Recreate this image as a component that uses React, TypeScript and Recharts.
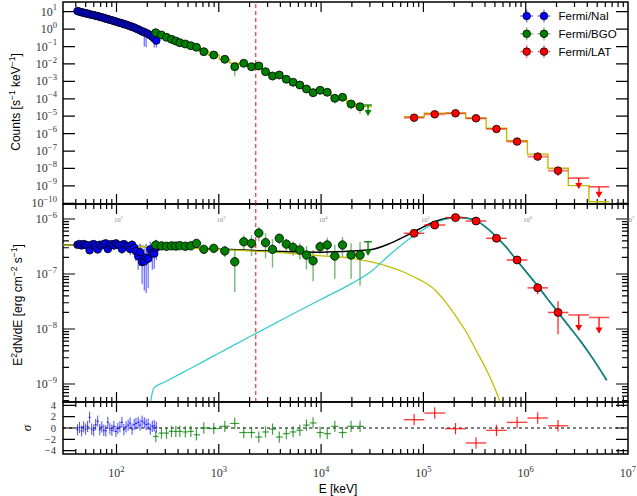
import React from 'react';
import { ComposedChart, Scatter, Line, XAxis, YAxis, ErrorBar, ReferenceLine, ReferenceArea, Legend } from 'recharts';

// ---------------- data ----------------
// Fermi/NaI (keV, counts s^-1 keV^-1, E^2 dN/dE, residual)
const naiE = [41.6, 43.5, 45.6, 47.7, 49.9, 52.2, 54.6, 57.2, 59.8, 62.6, 65.5, 68.6, 71.8, 75.1, 78.6, 82.3, 86.1, 90.1, 94.3, 98.7, 103, 108, 113, 118, 124, 130, 136, 142, 149, 155, 163, 170, 178, 187, 195, 204, 214, 224, 234, 245];
const naiCounts = [10.9, 10.1, 9.2, 8.8, 8.0, 7.8, 7.1, 6.6, 6.4, 5.8, 5.6, 5.1, 4.7, 4.5, 4.0, 3.8, 3.4, 3.25, 2.9, 2.75, 2.5, 2.3, 2.17, 1.93, 1.82, 1.62, 1.52, 1.33, 1.25, 1.08, 0.97, 0.85, 0.74, 0.66, 0.6, 0.52, 0.45, 0.37, 0.29, 0.22];
const naiCountErr = [0.04, 0.04, 0.04, 0.04, 0.04, 0.05, 0.05, 0.05, 0.05, 0.05, 0.05, 0.05, 0.06, 0.06, 0.06, 0.06, 0.06, 0.07, 0.07, 0.07, 0.07, 0.08, 0.08, 0.08, 0.09, 0.09, 0.1, 0.1, 0.12, 0.14, 0.15, 0.2, 0.3, 0.85, 0.85, 0.3, 0.35, 0.4, 0.7, 0.6];
const naiModelCounts = [10.7, 10.0, 9.33, 8.71, 8.13, 7.67, 7.16, 6.68, 6.31, 5.89, 5.5, 5.13, 4.79, 4.42, 4.07, 3.76, 3.47, 3.2, 2.95, 2.72, 2.51, 2.32, 2.14, 1.95, 1.8, 1.64, 1.5, 1.35, 1.23, 1.1, 0.989, 0.891, 0.794, 0.7, 0.617, 0.537, 0.457, 0.38, 0.302, 0.229];
const naiFlux = [3.4e-7, 3.5e-7, 3.3e-7, 3.5e-7, 3.4e-7, 3.3e-7, 2.7e-7, 3.4e-7, 3.5e-7, 3.2e-7, 2.8e-7, 3.4e-7, 3.3e-7, 3.5e-7, 3.6e-7, 2.85e-7, 3.4e-7, 3.5e-7, 3.3e-7, 3.6e-7, 3.4e-7, 3.3e-7, 2.85e-7, 3.5e-7, 3.3e-7, 3.1e-7, 2.85e-7, 3.4e-7, 3.0e-7, 2.6e-7, 2.1e-7, 2.5e-7, 1.65e-7, 1.7e-7, 2.0e-7, 1.9e-7, 2.8e-7, 2.4e-7, 2.35e-7, 3.0e-7];
const naiFluxErr = [0.3e-7, 0.3e-7, 0.3e-7, 0.35e-7, 0.3e-7, 0.35e-7, 0.4e-7, 0.35e-7, 0.35e-7, 0.4e-7, 0.4e-7, 0.4e-7, 0.45e-7, 0.4e-7, 0.45e-7, 0.45e-7, 0.45e-7, 0.5e-7, 0.5e-7, 0.5e-7, 0.55e-7, 0.5e-7, 0.55e-7, 0.6e-7, 0.6e-7, 0.6e-7, 0.65e-7, 0.7e-7, 0.7e-7, 0.9e-7, 0.9e-7, 1.1e-7, 1.0e-7, 1.2e-7, 1.55e-7, 1.35e-7, 1.1e-7, 1.2e-7, 1.1e-7, 1.2e-7];
const naiResid = [-0.3, 0.1, -0.5, 0.2, -0.2, 0.3, 1.9, -0.2, -0.4, 0.6, 1.2, -0.3, 0.2, -0.4, -0.5, 1.0, -0.1, -0.4, 0.3, -0.6, -0.1, 0.2, 1.0, -0.3, 0.2, 0.5, 0.9, -0.2, 0.6, 0.8, 1.0, 0.5, 1.2, 0.9, 0.6, 0.7, -0.2, 0.3, 0.4, 0.1];

// Fermi/BGO
const bgoE = [242, 275, 308, 345, 380, 416, 471, 533, 605, 714, 893, 1145, 1433, 1754, 2088, 2462, 2862, 3350, 3901, 4571, 5326, 6194, 7194, 8350, 9780, 11480, 13620, 16190, 19640, 24030];
const bgoUlE = [28770];
const bgoCounts = [0.622, 0.459, 0.339, 0.26, 0.208, 0.166, 0.14, 0.112, 0.0904, 0.0506, 0.0327, 0.0185, 0.00697, 0.0109, 0.00697, 0.00764, 0.0036, 0.00204, 0.00232, 0.00132, 8.85e-4, 6.2e-4, 3.66e-4, 2.24e-4, 3.08e-4, 2.36e-4, 1.07e-4, 1.22e-4, 5.03e-5, 3.52e-5];
const bgoCountErr = [0.03, 0.03, 0.03, 0.03, 0.03, 0.04, 0.04, 0.05, 0.05, 0.08, 0.1, 0.15, 0.73, 0.2, 0.25, 0.2, 0.35, 0.45, 0.3, 0.35, 0.3, 0.3, 0.35, 0.45, 0.35, 0.35, 0.5, 0.4, 0.5, 0.6];
const bgoUlCounts = [4.4e-5];
const bgoModelCounts = [0.603, 0.457, 0.347, 0.269, 0.214, 0.17, 0.135, 0.107, 0.0851, 0.0537, 0.0316, 0.0182, 0.0112, 0.00955, 0.00794, 0.00603, 0.00398, 0.00263, 0.002, 0.00138, 9.55e-4, 6.61e-4, 4.57e-4, 3.39e-4, 2.82e-4, 2.09e-4, 1.2e-4, 1.0e-4, 5.5e-5, 3.55e-5, 3.55e-5];
const bgoFlux = [3.37e-7, 3.25e-7, 3.2e-7, 3.25e-7, 3.22e-7, 3.28e-7, 3.2e-7, 3.25e-7, 3.61e-7, 2.81e-7, 2.93e-7, 2.62e-7, 1.67e-7, 3.86e-7, 3.61e-7, 5.56e-7, 3.72e-7, 2.81e-7, 4.46e-7, 3.5e-7, 3.05e-7, 2.73e-7, 2.21e-7, 1.74e-7, 3.13e-7, 3.37e-7, 2.12e-7, 3.37e-7, 2.21e-7, 2.21e-7];
const bgoFluxErr = [0.2e-7, 0.2e-7, 0.2e-7, 0.2e-7, 0.2e-7, 0.2e-7, 0.25e-7, 0.25e-7, 0.3e-7, 0.5e-7, 0.5e-7, 0.6e-7, 1.2e-7, 1.2e-7, 1.5e-7, 1.6e-7, 1.8e-7, 1.5e-7, 1.0e-7, 0.9e-7, 0.9e-7, 0.9e-7, 1.0e-7, 1.0e-7, 0.8e-7, 1.2e-7, 1.3e-7, 1.3e-7, 1.4e-7, 1.6e-7];
const bgoUlFlux = [3.86e-7];
const bgoResid = [-1.5, -0.9, -0.9, -0.6, -0.6, -0.6, -0.7, -0.6, -1.2, 0.0, -0.1, 0.3, 0.8, -0.8, -0.8, -1.6, -0.7, -0.2, -1.6, -1.0, -0.7, -0.4, 0.5, 0.9, -0.8, -1.0, 0.3, -0.8, 0.3, 0.3];

// Fermi/LAT
const latE = [81100, 129000, 206000, 327000, 518000, 824000, 1310000, 2070000];
const latUlE = [3300000, 5210000];
const latEdges = [64400, 102000, 163000, 259000, 411000, 652000, 1040000, 1650000, 2610000, 4150000, 6560000];
const latCounts = [8.2e-6, 1.29e-5, 1.47e-5, 7.6e-6, 1.85e-6, 3.5e-7, 4.8e-8, 7.5e-9];
const latCountErr = [0.05, 0.04, 0.04, 0.05, 0.08, 0.12, 0.2, 0.5];
const latUlCounts = [2.8e-9, 8.9e-10];
const latModelCounts = [9.3e-6, 1.47e-5, 1.47e-5, 7.6e-6, 2.04e-6, 3.9e-7, 6.7e-8, 1.02e-8, 1.03e-9, 1.24e-10];
const latFlux = [5.5e-7, 7.78e-7, 1.06e-6, 9.2e-7, 4.46e-7, 1.8e-7, 5.6e-8, 2.0e-8];
const latFluxErr = [0.3e-7, 0.4e-7, 0.5e-7, 0.5e-7, 0.3e-7, 0.15e-7, 1.3e-8, 1.2e-8];
const latUlFlux = [1.8e-8, 1.62e-8];
const latResid = [1.47, 2.65, -0.12, -2.65, -0.42, 1.0, 1.77, 0.4];

// model components (E^2 dN/dE)
const modelE = [30, 50, 100, 200, 210, 232, 300, 500, 1000, 2000, 5000, 10000, 20000, 31000, 45000, 63000, 80000, 100000, 130000, 160000, 210000, 260000, 330000, 420000, 520000, 560000, 650000, 810000, 1000000, 1300000, 1600000, 2060000, 2600000, 3400000, 4500000, 6200000];
const yellowF = [3.39e-7, 3.31e-7, 3.24e-7, 3.13e-7, 3.11e-7, 3.09e-7, 3.05e-7, 2.95e-7, 2.79e-7, 2.63e-7, 2.37e-7, 2.14e-7, 1.93e-7, 1.66e-7, 1.38e-7, 1.1e-7, 8.91e-8, 7.24e-8, 5.13e-8, 3.31e-8, 1.66e-8, 9.12e-9, 3.98e-9, 1.7e-9, 6.92e-10, 4.79e-10, 2.0e-10, null, null, null, null, null, null, null, null, null];
const cyanF = [null, null, null, null, 3.55e-10, 8.51e-10, 1.1e-9, 1.82e-9, 3.63e-9, 7.24e-9, 1.78e-8, 3.47e-8, 6.76e-8, 1.12e-7, 2.09e-7, 3.55e-7, 4.9e-7, 6.46e-7, 8.51e-7, 9.77e-7, 1.06e-6, 1.035e-6, 9.33e-7, 6.76e-7, 4.68e-7, 4.07e-7, 3.02e-7, 1.82e-7, 1.12e-7, 6.17e-8, 3.72e-8, 2.04e-8, 1.17e-8, 6.17e-9, 2.95e-9, 1.17e-9];
const totalF = [3.39e-7, 3.31e-7, 3.24e-7, 3.13e-7, 3.11e-7, 3.1e-7, 3.06e-7, 2.97e-7, 2.83e-7, 2.7e-7, 2.55e-7, 2.49e-7, 2.61e-7, 2.78e-7, 3.47e-7, 4.65e-7, 5.79e-7, 7.18e-7, 9.02e-7, 1.01e-6, 1.077e-6, 1.044e-6, 9.37e-7, 6.78e-7, 4.69e-7, 4.07e-7, 3.02e-7, 1.82e-7, 1.12e-7, 6.17e-8, 3.72e-8, 2.04e-8, 1.17e-8, 6.17e-9, 2.95e-9, 1.17e-9];

const dashedLineE = 2300;

// axis tick values
const xDecades = [10, 100, 1000, 1e4, 1e5, 1e6];
const countDecades = [-10, -9, -8, -7, -6, -5, -4, -3, -2, -1, 0, 1];
const fluxDecades = [-10, -9, -8, -7, -6];
const sigmaTicks = [-4, -2, 0, 2, 4];

const legendItems = [
  { name: 'Fermi/NaI', color: '#0000ff' },
  { name: 'Fermi/BGO', color: '#008000' },
  { name: 'Fermi/LAT', color: '#ff0000' },
];

// ---------------- layout / style ----------------
const W = 637;
const H = 496;
const P1 = { top: 2, bottom: 204 };
const P2 = { top: 204, bottom: 402 };
const P3 = { top: 402, bottom: 454 };
const LEFT_W = 63;
const RIGHT_W = 9;
const PLOT_W = W - LEFT_W - RIGHT_W;
const AX_H = 1;
const X_DOMAIN: [number, number] = [30, 1e7];
const C_DOMAIN: [number, number] = [9.12e-11, 36.1];
const F_DOMAIN: [number, number] = [4.71e-10, 1.875e-6];
const S_DOMAIN: [number, number] = [-4.6, 4.6];

const SERIF = '"Liberation Serif", "DejaVu Serif", serif';
const SANS = '"Liberation Sans", Arial, Helvetica, sans-serif';
const BLUE = '#0000ff';
const GREEN = '#008000';
const RED = '#ff0000';
const YEL = '#bfbf00';
const CYAN = '#00bfbf';
const AXIS = { stroke: '#000', strokeWidth: 1.5 };

// ---------------- helpers ----------------
const isDecade = (v: number) => Math.abs(Math.log10(v) - Math.round(Math.log10(v))) < 1e-6;

const xTicks: number[] = (() => {
  const t: number[] = [];
  xDecades.forEach((d) => {
    for (let k = 1; k <= 9; k++) {
      const v = d * k;
      if (v > X_DOMAIN[0] && v <= X_DOMAIN[1]) t.push(v);
    }
  });
  t.push(1e7);
  return t;
})();
const countTicks = countDecades.map((p) => Math.pow(10, p));
const fluxTicks: number[] = (() => {
  const t: number[] = [];
  fluxDecades.forEach((p) => {
    for (let k = 1; k <= 9; k++) {
      const v = k * Math.pow(10, p);
      if (v >= F_DOMAIN[0] && v <= F_DOMAIN[1]) t.push(v);
    }
  });
  return t;
})();

const geoEdges = (c: number[]) => {
  const n = c.length;
  const e: number[] = [c[0] / Math.sqrt(c[1] / c[0])];
  for (let i = 1; i < n; i++) e.push(Math.sqrt(c[i - 1] * c[i]));
  e.push(c[n - 1] * Math.sqrt(c[n - 1] / c[n - 2]));
  return e;
};

// ---------------- derived tables ----------------
const naiEdges = geoEdges(naiE);
const naiCountPts = naiE.map((e, i) => ({ e, v: naiCounts[i], err: naiCounts[i] * naiCountErr[i] }));
const naiModelPts = naiE.map((e, i) => ({ e, v: naiModelCounts[i] }));
const naiFluxPts = naiE.map((e, i) => ({ e, v: naiFlux[i], err: naiFluxErr[i] }));
const naiResPts = naiE.map((e, i) => ({ e, v: naiResid[i], ey: 1, ex: [e - naiEdges[i], naiEdges[i + 1] - e] }));

const bgoAllE = [...bgoE, ...bgoUlE];
const bgoEdges = geoEdges(bgoAllE);
const bgoCountPts = bgoE.map((e, i) => ({ e, v: bgoCounts[i], err: bgoCounts[i] * bgoCountErr[i] }));
const bgoUlCountPts = bgoUlE.map((e, i) => ({ e, v: bgoUlCounts[i] }));
const bgoModelStep = bgoEdges.map((e, i) => ({ e, v: bgoModelCounts[Math.min(i, bgoModelCounts.length - 1)] }));
const bgoFluxPts = bgoE.map((e, i) => ({ e, v: bgoFlux[i], err: bgoFluxErr[i] }));
const bgoUlFluxPts = bgoUlE.map((e, i) => ({ e, v: bgoUlFlux[i] }));
const bgoResPts = bgoE.map((e, i) => ({ e, v: bgoResid[i], ey: 1, ex: [e - bgoEdges[i], bgoEdges[i + 1] - e] }));

const latX = (e: number, i: number) => [e - latEdges[i], latEdges[i + 1] - e];
const nLat = latE.length;
const latCountPts = latE.map((e, i) => ({ e, v: latCounts[i], err: latCounts[i] * latCountErr[i], ex: latX(e, i) }));
const latUlCountPts = latUlE.map((e, j) => ({ e, v: latUlCounts[j], ex: latX(e, nLat + j) }));
const latModelStep = latEdges.map((e, i) => ({ e, v: latModelCounts[Math.min(i, latModelCounts.length - 1)] }));
const latFluxPts = latE.map((e, i) => ({ e, v: latFlux[i], err: latFluxErr[i], ex: latX(e, i) }));
const latUlFluxPts = latUlE.map((e, j) => ({ e, v: latUlFlux[j], ex: latX(e, nLat + j) }));
const latResPts = latE.map((e, i) => ({ e, v: latResid[i], ey: 1, ex: latX(e, i) }));

const pick = (arr: (number | null)[]) =>
  modelE.map((e, i) => ({ e, v: arr[i] })).filter((p) => p.v !== null && p.v !== undefined);
const yellowPts = pick(yellowF);
const cyanPts = pick(cyanF);
const totalPts = pick(totalF);

// ---------------- drawing pieces ----------------
function Pow({ x, y, v, anchor, size, fill }: any) {
  const n = Math.round(Math.log10(v));
  const s = n < 0 ? '\u2212' + Math.abs(n) : String(n);
  return (
    <text x={x} y={y} textAnchor={anchor} fontFamily={SERIF} fontSize={size} fill={fill}>
      10
      <tspan dy={-size * 0.45} fontSize={size * 0.72}>
        {s}
      </tspan>
    </text>
  );
}

const mkXLabel = (side: 'top' | 'bottom', label: 'none' | 'big' | 'tiny') => (p: any) => {
  const x = Number(p.x);
  const y = Number(p.y);
  const v = p.payload.value;
  const major = isDecade(v);
  const y0 = side === 'bottom' ? y - AX_H : y + AX_H;
  if (major && label === 'big') return <Pow x={x} y={y0 + 24} v={v} anchor="middle" size={12} fill="#333" />;
  if (major && label === 'tiny') return <Pow x={x + 2} y={y0 + 17} v={v} anchor="middle" size={6.5} fill="#888" />;
  return <g />;
};

const mkYLabel = (labels: boolean, lin: boolean) => (p: any) => {
  const x = Number(p.x);
  const y = Number(p.y);
  const v = p.payload.value;
  const major = lin ? true : isDecade(v);
  if (!labels || !major) return <g />;
  return lin ? (
    <text x={x - 7} y={y + 3.5} textAnchor="end" fontFamily={SERIF} fontSize={10.5} fill="#333">
      {v < 0 ? '\u2212' + Math.abs(v) : String(v)}
    </text>
  ) : (
    <Pow x={x - 6} y={y + 4} v={v} anchor="end" size={12} fill="#333" />
  );
};

// inward tick marks: one full-span reference line per tick value, dashed so that only
// a short stub remains visible at each end of the line (i.e. at both frame edges)
const stubDash = (len: number, span: number) => `${len} ${Math.max(span - 2 * len, 0)} ${len} ${span * 4}`;

function tickLines(yTicks: number[], lin: boolean, panelH: number) {
  const out: React.ReactElement[] = [];
  xTicks.forEach((t) => {
    if (t >= X_DOMAIN[1]) return;
    const len = isDecade(t) ? 10 : 5;
    out.push(
      <ReferenceLine key={'tx' + t} x={t} stroke="#000" strokeWidth={1.2} strokeDasharray={stubDash(len, panelH)} />
    );
  });
  yTicks.forEach((t) => {
    const major = lin ? true : isDecade(t);
    const len = major ? 12 : 6;
    out.push(
      <ReferenceLine key={'ty' + t} y={t} stroke="#000" strokeWidth={1.2} strokeDasharray={stubDash(len, PLOT_W)} />
    );
  });
  return out;
}

const dot = (color: string, r: number) => (p: any) =>
  p.cx == null || p.cy == null ? <g /> : <circle cx={p.cx} cy={p.cy} r={r} fill={color} stroke="#000" strokeWidth={0.8} />;

const ulShape = (color: string, len: number, cap: number) => (p: any) => {
  const { cx, cy } = p;
  if (cx == null || cy == null) return <g />;
  return (
    <g>
      {cap > 0 ? <line x1={cx - cap} x2={cx + cap} y1={cy} y2={cy} stroke={color} strokeWidth={1.3} /> : null}
      <line x1={cx} x2={cx} y1={cy} y2={cy + len} stroke={color} strokeWidth={1.3} />
      <path d={`M${cx - 3.5},${cy + len - 5} L${cx + 3.5},${cy + len - 5} L${cx},${cy + len + 1} Z`} fill={color} />
    </g>
  );
};

const none = () => <g />;

function axes(
  yDomain: [number, number],
  yTicks: number[],
  yScale: 'log' | 'linear',
  xBottomLabel: 'none' | 'big',
  xTopLabel: 'none' | 'tiny',
  panelH: number,
  yLabel: any,
  xLabel?: any
) {
  const lin = yScale === 'linear';
  return [
    <XAxis
      key="xb"
      dataKey="e"
      type="number"
      scale="log"
      domain={X_DOMAIN}
      allowDataOverflow
      ticks={xTicks}
      interval={0}
      tick={mkXLabel('bottom', xBottomLabel)}
      tickLine={false}
      tickSize={0}
      tickMargin={0}
      axisLine={false}
      height={AX_H}
      label={xLabel}
    />,
    <XAxis
      key="xt"
      xAxisId="t"
      orientation="top"
      dataKey="e"
      type="number"
      scale="log"
      domain={X_DOMAIN}
      allowDataOverflow
      ticks={xTicks}
      interval={0}
      tick={mkXLabel('top', xTopLabel)}
      tickLine={false}
      tickSize={0}
      tickMargin={0}
      axisLine={false}
      height={AX_H}
    />,
    <YAxis
      key="yl"
      type="number"
      scale={yScale}
      domain={yDomain}
      allowDataOverflow
      ticks={yTicks}
      interval={0}
      tick={mkYLabel(true, lin)}
      tickLine={false}
      tickSize={0}
      tickMargin={0}
      axisLine={false}
      width={LEFT_W}
      label={yLabel}
    />,
    <YAxis
      key="yr"
      yAxisId="r"
      orientation="right"
      type="number"
      scale={yScale}
      domain={yDomain}
      allowDataOverflow
      ticks={yTicks}
      interval={0}
      tick={mkYLabel(false, lin)}
      tickLine={false}
      tickSize={0}
      tickMargin={0}
      axisLine={false}
      width={RIGHT_W}
    />,
    <ReferenceArea
      key="frame"
      x1={X_DOMAIN[0]}
      x2={X_DOMAIN[1]}
      y1={yDomain[0]}
      y2={yDomain[1]}
      fill="none"
      fillOpacity={0}
      stroke={AXIS.stroke}
      strokeWidth={AXIS.strokeWidth}
      ifOverflow="visible"
    />,
    ...tickLines(yTicks, lin, panelH),
  ];
}

const countsLabel = () => (
  <text transform="translate(19.5,102) rotate(-90)" textAnchor="middle" fontFamily={SANS} fontSize={12} fill="#000">
    Counts [s
    <tspan dy={-5} fontSize={8.5}>{'\u22121'}</tspan>
    <tspan dy={5}> keV</tspan>
    <tspan dy={-5} fontSize={8.5}>{'\u22121'}</tspan>
    <tspan dy={5}>]</tspan>
  </text>
);

const fluxLabel = () => (
  <text transform="translate(22,305) rotate(-90)" textAnchor="middle" fontFamily={SANS} fontSize={12} fill="#000">
    E
    <tspan dy={-5} fontSize={8.5}>2</tspan>
    <tspan dy={5}>dN/dE [erg cm</tspan>
    <tspan dy={-5} fontSize={8.5}>{'\u22122'}</tspan>
    <tspan dy={5}> s</tspan>
    <tspan dy={-5} fontSize={8.5}>{'\u22121'}</tspan>
    <tspan dy={5}>]</tspan>
  </text>
);

const sigmaLabel = () => (
  <text transform="translate(31,428) rotate(-90)" textAnchor="middle" fontFamily={SERIF} fontStyle="italic" fontSize={13} fill="#000">
    σ
  </text>
);

const energyLabel = () => (
  <text x={338} y={493} textAnchor="middle" fontFamily={SANS} fontSize={12} fill="#000">
    E [keV]
  </text>
);

function LegendBox() {
  return (
    <svg width={132} height={62} style={{ display: 'block', overflow: 'visible' }}>
      {legendItems.map((it, i) => {
        const y = 16 + i * 17.8;
        return (
          <g key={it.name}>
            {[21.7, 39].map((mx) => (
              <g key={mx}>
                <line x1={mx - 6.5} x2={mx + 6.5} y1={y} y2={y} stroke={it.color} strokeOpacity={0.55} strokeWidth={1.3} />
                <line x1={mx} x2={mx} y1={y - 6.5} y2={y + 6.5} stroke={it.color} strokeOpacity={0.55} strokeWidth={1.3} />
                <circle cx={mx} cy={y} r={3.8} fill={it.color} stroke="#000" strokeWidth={0.8} />
              </g>
            ))}
            <text x={53.5} y={y + 4.2} fontFamily={SANS} fontSize={11.5} fill="#000">
              {it.name}
            </text>
          </g>
        );
      })}
    </svg>
  );
}

const margin = (p: { top: number; bottom: number }) => ({ top: p.top - AX_H, bottom: H - p.bottom - AX_H, left: 0, right: 0 });

function CountsPanel() {
  return (
    <ComposedChart width={W} height={H} margin={margin(P1)}>
      {axes(C_DOMAIN, countTicks, 'log', 'none', 'none', P1.bottom - P1.top, countsLabel)}
      <ReferenceLine x={dashedLineE} stroke={RED} strokeDasharray="4 3" strokeWidth={1} />
      <Scatter data={naiCountPts} dataKey="v" isAnimationActive={false} shape={dot(BLUE, 3.8)}>
        <ErrorBar dataKey="err" direction="y" width={0} stroke="rgba(0,0,255,0.6)" strokeWidth={1.2} />
      </Scatter>
      <Line data={naiModelPts} dataKey="v" type="linear" stroke={YEL} strokeWidth={1.6} dot={false} activeDot={false} isAnimationActive={false} />
      <Scatter data={bgoCountPts} dataKey="v" isAnimationActive={false} shape={dot(GREEN, 4)}>
        <ErrorBar dataKey="err" direction="y" width={0} stroke="rgba(0,128,0,0.55)" strokeWidth={1.3} />
      </Scatter>
      <Scatter data={bgoUlCountPts} dataKey="v" isAnimationActive={false} shape={ulShape(GREEN, 10, 4)} />
      <Line data={bgoModelStep} dataKey="v" type="stepAfter" stroke={YEL} strokeWidth={1.4} dot={false} activeDot={false} isAnimationActive={false} />
      <Line data={latModelStep} dataKey="v" type="stepAfter" stroke={YEL} strokeWidth={1.4} dot={false} activeDot={false} isAnimationActive={false} />
      <Scatter data={latCountPts} dataKey="v" isAnimationActive={false} shape={dot(RED, 3.8)}>
        <ErrorBar dataKey="ex" direction="x" width={0} stroke="rgba(255,0,0,0.5)" strokeWidth={2} />
        <ErrorBar dataKey="err" direction="y" width={0} stroke="rgba(255,0,0,0.8)" strokeWidth={1.2} />
      </Scatter>
      <Scatter data={latUlCountPts} dataKey="v" isAnimationActive={false} shape={ulShape(RED, 10, 0)}>
        <ErrorBar dataKey="ex" direction="x" width={0} stroke="rgba(255,0,0,0.7)" strokeWidth={1.6} />
      </Scatter>
      <Legend
        layout="vertical"
        align="center"
        verticalAlign="middle"
        wrapperStyle={{ position: 'absolute', left: 505, top: 0, width: 132, height: 62 }}
        content={() => <LegendBox />}
      />
    </ComposedChart>
  );
}

function FluxPanel() {
  return (
    <ComposedChart width={W} height={H} margin={margin(P2)}>
      {axes(F_DOMAIN, fluxTicks, 'log', 'none', 'tiny', P2.bottom - P2.top, fluxLabel)}
      <ReferenceLine x={dashedLineE} stroke={RED} strokeDasharray="4 3" strokeWidth={1} />
      <Scatter data={naiFluxPts} dataKey="v" isAnimationActive={false} shape={dot(BLUE, 3.8)}>
        <ErrorBar dataKey="err" direction="y" width={0} stroke="rgba(0,0,255,0.6)" strokeWidth={1.2} />
      </Scatter>
      <Scatter data={bgoFluxPts} dataKey="v" isAnimationActive={false} shape={dot(GREEN, 4.2)}>
        <ErrorBar dataKey="err" direction="y" width={0} stroke="rgba(0,128,0,0.55)" strokeWidth={1.4} />
      </Scatter>
      <Scatter data={bgoUlFluxPts} dataKey="v" isAnimationActive={false} shape={ulShape(GREEN, 13, 4)} />
      <Line data={totalPts} dataKey="v" type="monotone" stroke="#000" strokeWidth={1.5} dot={false} activeDot={false} isAnimationActive={false} />
      <Line data={yellowPts} dataKey="v" type="monotone" stroke={YEL} strokeWidth={1.3} dot={false} activeDot={false} isAnimationActive={false} />
      <Line data={cyanPts} dataKey="v" type="monotone" stroke={CYAN} strokeOpacity={0.8} strokeWidth={1.3} dot={false} activeDot={false} isAnimationActive={false} />
      <Scatter data={latFluxPts} dataKey="v" isAnimationActive={false} shape={dot(RED, 4)}>
        <ErrorBar dataKey="ex" direction="x" width={0} stroke="rgba(255,0,0,0.75)" strokeWidth={1.5} />
        <ErrorBar dataKey="err" direction="y" width={0} stroke="rgba(255,0,0,0.85)" strokeWidth={1.3} />
      </Scatter>
      <Scatter data={latUlFluxPts} dataKey="v" isAnimationActive={false} shape={ulShape(RED, 15, 0)}>
        <ErrorBar dataKey="ex" direction="x" width={0} stroke="rgba(255,0,0,0.7)" strokeWidth={1.5} />
      </Scatter>
    </ComposedChart>
  );
}

function ResidPanel() {
  return (
    <ComposedChart width={W} height={H} margin={margin(P3)}>
      {axes(S_DOMAIN, sigmaTicks, 'linear', 'big', 'none', P3.bottom - P3.top, sigmaLabel, energyLabel)}
      <ReferenceLine y={0} stroke="#000" strokeDasharray="3 3" strokeWidth={1} />
      <Scatter data={naiResPts} dataKey="v" isAnimationActive={false} shape={none}>
        <ErrorBar dataKey="ey" direction="y" width={0} stroke="rgba(0,0,255,0.65)" strokeWidth={1.1} />
        <ErrorBar dataKey="ex" direction="x" width={0} stroke="rgba(0,0,255,0.8)" strokeWidth={1.1} />
      </Scatter>
      <Scatter data={bgoResPts} dataKey="v" isAnimationActive={false} shape={none}>
        <ErrorBar dataKey="ey" direction="y" width={0} stroke="rgba(0,128,0,0.75)" strokeWidth={1.2} />
        <ErrorBar dataKey="ex" direction="x" width={0} stroke="rgba(0,128,0,0.75)" strokeWidth={1.2} />
      </Scatter>
      <Scatter data={latResPts} dataKey="v" isAnimationActive={false} shape={none}>
        <ErrorBar dataKey="ey" direction="y" width={0} stroke="rgba(255,0,0,0.85)" strokeWidth={1.2} />
        <ErrorBar dataKey="ex" direction="x" width={0} stroke="rgba(255,0,0,0.75)" strokeWidth={1.4} />
      </Scatter>
    </ComposedChart>
  );
}

export default function App() {
  const layer: React.CSSProperties = { position: 'absolute', left: 0, top: 0 };
  return (
    <div style={{ position: 'absolute', left: 0, top: 0, width: W, height: H, background: '#fff', overflow: 'hidden' }}>
      <div style={layer}>
        <CountsPanel />
      </div>
      <div style={layer}>
        <FluxPanel />
      </div>
      <div style={layer}>
        <ResidPanel />
      </div>
    </div>
  );
}
